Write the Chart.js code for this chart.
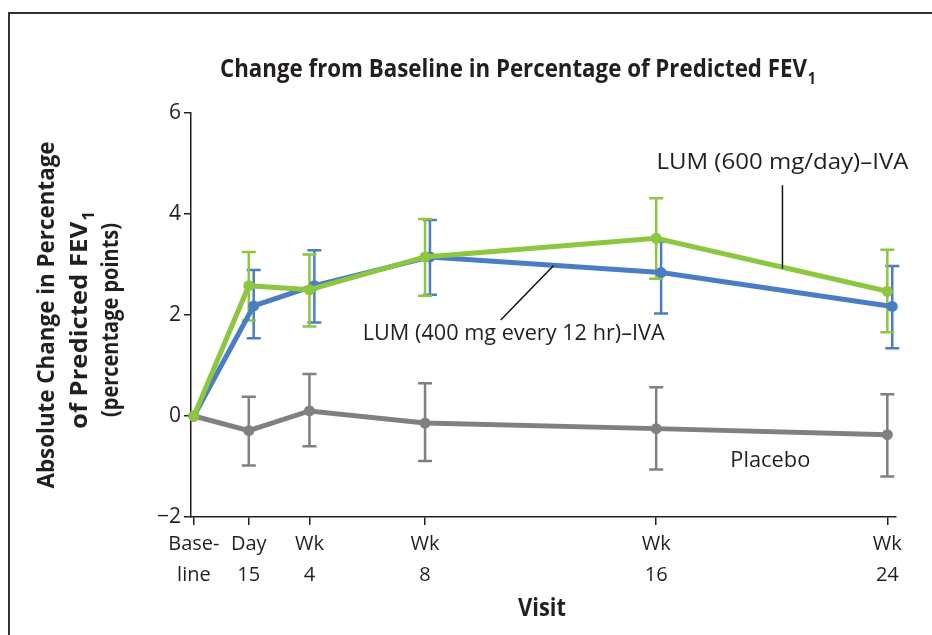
<!DOCTYPE html>
<html lang="en">
<head>
    <meta charset="UTF-8">
    <title>Change from Baseline in Percentage of Predicted FEV1</title>
    <script src="https://cdn.jsdelivr.net/npm/chart.js"></script>
    <style>
        body { margin: 0; background: #fff; }
        #wrap { width: 932px; height: 635px; }
    </style>
</head>
<body>
<div id="wrap"><canvas id="fevChart" width="932" height="635"></canvas></div>
<script>
// visit positions on the x axis (weeks) and their labels
const visitWeeks = [0, 1.9, 4, 8, 16, 24];
const visitLabels = [['Base-', 'line'], ['Day', '15'], ['Wk', '4'], ['Wk', '8'], ['Wk', '16'], ['Wk', '24']];
const yTicks = [-2, 0, 2, 4, 6];

// LUM (600 mg/day)-IVA
const lum600 = [0, 2.58, 2.50, 3.15, 3.52, 2.47];
const lum600Lo = [null, 1.89, 1.77, 2.38, 2.72, 1.66];
const lum600Hi = [null, 3.25, 3.20, 3.90, 4.31, 3.29];
// LUM (400 mg every 12 hr)-IVA
const lum400 = [0, 2.18, 2.58, 3.15, 2.84, 2.17];
const lum400Lo = [null, 1.54, 1.85, 2.40, 2.03, 1.34];
const lum400Hi = [null, 2.89, 3.28, 3.88, 3.45, 2.97];
// Placebo
const placebo = [0, -0.29, 0.10, -0.14, -0.25, -0.37];
const placeboLo = [null, -0.98, -0.60, -0.89, -1.06, -1.20];
const placeboHi = [null, 0.38, 0.83, 0.65, 0.57, 0.43];

const GREEN = '#8dc63f', BLUE = '#4a7dc4', GREY = '#808080', INK = '#231f20';
const FONT = '"Open Sans", "Noto Sans", sans-serif';
const blueShift = 0.17; // blue markers sit a little to the right

function points(vals, shift) {
    return vals.map((v, i) => ({ x: visitWeeks[i] + (i ? shift : 0), y: v }));
}

// text drawn squeezed/stretched to a given width, with optional subscript
function fitText(ctx, text, sub, cx, cy, font, width, rotate) {
    ctx.save();
    ctx.font = font;
    const w = ctx.measureText(text).width;
    const subFont = font.replace(/(\d+)px/, (m, n) => Math.round(n * 0.65) + 'px');
    let sw = 0;
    if (sub) { ctx.font = subFont; sw = ctx.measureText(sub).width + 1; }
    const total = w + sw;
    ctx.translate(cx, cy);
    if (rotate) ctx.rotate(-Math.PI / 2);
    ctx.scale(width / total, 1);
    ctx.fillStyle = INK;
    ctx.textBaseline = 'middle';
    ctx.textAlign = 'left';
    ctx.font = font;
    ctx.fillText(text, -total / 2, 0);
    if (sub) {
        const size = parseInt(font.match(/(\d+)px/)[1]);
        ctx.font = subFont;
        ctx.fillText(sub, -total / 2 + w + 1, size * 0.38);
    }
    ctx.restore();
}

const annotations = [
    { text: 'LUM (600 mg/day)\u2013IVA', x: 20.37, y: 5.0, width: 252, line: [20.37, 4.57, 20.37, 2.92] },
    { text: 'LUM (400 mg every 12 hr)\u2013IVA', x: 11.07, y: 1.62, width: 302, line: [10.62, 1.90, 12.45, 2.98] },
    { text: 'Placebo', x: 19.95, y: -0.9, width: 80 }
];

const errorBars = {
    id: 'errorBars',
    beforeDatasetsDraw(chart) {
        const { ctx, scales: { x, y } } = chart;
        const sets = [[placebo, placeboLo, placeboHi, GREY, 0], [lum400, lum400Lo, lum400Hi, BLUE, blueShift], [lum600, lum600Lo, lum600Hi, GREEN, 0]];
        ctx.save();
        ctx.lineWidth = 2.5;
        sets.forEach(([vals, lo, hi, color, shift]) => {
            ctx.strokeStyle = color;
            vals.forEach((v, i) => {
                if (lo[i] === null) return;
                const px = x.getPixelForValue(visitWeeks[i] + shift);
                const y1 = y.getPixelForValue(lo[i]), y2 = y.getPixelForValue(hi[i]);
                ctx.beginPath();
                ctx.moveTo(px, y1); ctx.lineTo(px, y2);
                ctx.moveTo(px - 7, y1); ctx.lineTo(px + 7, y1);
                ctx.moveTo(px - 7, y2); ctx.lineTo(px + 7, y2);
                ctx.stroke();
            });
        });
        ctx.restore();
    },
    afterDraw(chart) {
        const { ctx, scales: { x, y } } = chart;
        ctx.save();
        // frame
        ctx.strokeStyle = '#333';
        ctx.lineWidth = 2;
        ctx.beginPath();
        ctx.moveTo(9, 640); ctx.lineTo(9, 13); ctx.lineTo(940, 13);
        ctx.stroke();
        // leader lines and labels
        ctx.strokeStyle = '#111';
        ctx.lineWidth = 1.5;
        annotations.forEach(a => {
            if (a.line) {
                ctx.beginPath();
                ctx.moveTo(x.getPixelForValue(a.line[0]), y.getPixelForValue(a.line[1]));
                ctx.lineTo(x.getPixelForValue(a.line[2]), y.getPixelForValue(a.line[3]));
                ctx.stroke();
            }
            fitText(ctx, a.text, '', x.getPixelForValue(a.x), y.getPixelForValue(a.y), '21px ' + FONT, a.width);
        });
        ctx.restore();
        // titles
        fitText(ctx, 'Change from Baseline in Percentage of Predicted FEV', '1', 518, 70, '700 25px ' + FONT, 596);
        fitText(ctx, 'Absolute Change in Percentage', '', 47, 315, '700 24px ' + FONT, 347, true);
        fitText(ctx, 'of Predicted FEV', '1', 80, 320, '700 24px ' + FONT, 218, true);
        fitText(ctx, '(percentage points)', '', 111, 320, '700 24px ' + FONT, 194, true);
        fitText(ctx, 'Visit', '', 542, 609, '700 25px ' + FONT, 48);
    }
};

const ctx = document.getElementById('fevChart').getContext('2d');
new Chart(ctx, {
    type: 'line',
    data: {
        datasets: [
            { label: 'LUM (600 mg/day)-IVA', data: points(lum600, 0), borderColor: GREEN, backgroundColor: GREEN, order: 0 },
            { label: 'LUM (400 mg every 12 hr)-IVA', data: points(lum400, blueShift), borderColor: BLUE, backgroundColor: BLUE, order: 1 },
            { label: 'Placebo', data: points(placebo, 0), borderColor: GREY, backgroundColor: GREY, order: 2 }
        ]
    },
    options: {
        responsive: false,
        animation: false,
        layout: { padding: { top: 113, right: 36, left: 0, bottom: 0 } },
        elements: {
            line: { borderWidth: 5, tension: 0 },
            point: { radius: 5.5, borderWidth: 0 }
        },
        datasets: { line: { clip: false } },
        plugins: { legend: { display: false }, title: { display: false }, tooltip: { enabled: false } },
        scales: {
            x: {
                type: 'linear',
                min: -0.1,
                max: 24.3,
                afterFit: s => { s.height = 118; },
                afterBuildTicks: s => { s.ticks = visitWeeks.map(v => ({ value: v })); },
                ticks: {
                    autoSkip: false,
                    maxRotation: 0,
                    padding: 4,
                    color: INK,
                    font: { family: FONT, size: 20, lineHeight: 1.55 },
                    callback: (v, i) => visitLabels[i]
                },
                grid: { drawOnChartArea: false, tickLength: 8, color: INK, lineWidth: 1.5 },
                border: { color: INK, width: 1.5 }
            },
            y: {
                min: -2,
                max: 6,
                afterFit: s => { s.width = 191; },
                afterBuildTicks: s => { s.ticks = yTicks.map(v => ({ value: v })); },
                ticks: {
                    padding: 3,
                    color: INK,
                    font: { family: FONT, size: 21 },
                    callback: v => v < 0 ? '\u2212' + Math.abs(v) : String(v)
                },
                grid: { drawOnChartArea: false, tickLength: 7, color: INK, lineWidth: 1.5 },
                border: { color: INK, width: 1.5 }
            }
        }
    },
    plugins: [errorBars]
});
</script>
</body>
</html>
